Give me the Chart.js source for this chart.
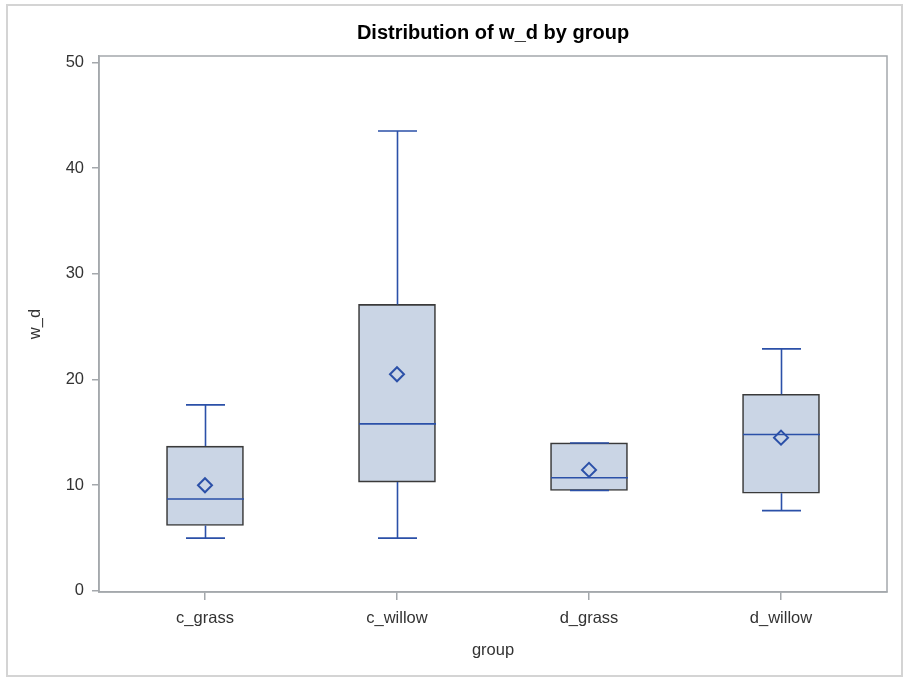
<!DOCTYPE html>
<html>
<head>
<meta charset="utf-8">
<script src="https://cdn.jsdelivr.net/npm/chart.js@4.4.1/dist/chart.umd.min.js"></script>
<style>
  html, body { margin: 0; padding: 0; background: #fff; }
  #wrap { width: 904px; height: 677px; }
</style>
</head>
<body>
<div id="wrap"><canvas id="box-chart" width="904" height="677"></canvas></div>
<script>
// Box plot data
const groups = ['c_grass', 'c_willow', 'd_grass', 'd_willow'];
const whiskerLow = [5.0, 5.0, 9.5, 7.6];
const q1 = [6.2, 10.3, 9.5, 9.25];
const medians = [8.7, 15.8, 10.7, 14.8];
const q3 = [13.7, 27.1, 14.0, 18.6];
const whiskerHigh = [17.6, 43.5, 14.0, 22.9];
const means = [10.0, 20.5, 11.45, 14.5];
const yTicks = [0, 10, 20, 30, 40, 50];

const blue = '#2b50a8';
const axisGrey = '#a4a8ac';
const textColor = '#333333';

const boxData = groups.map(function (g, i) { return { x: i + 1, y: [q1[i], q3[i]] }; });
const meanData = groups.map(function (g, i) { return { x: i + 1, y: means[i] }; });

// whiskers, caps and medians drawn right after the boxes
const whiskerPlugin = {
  id: 'whiskers',
  afterDatasetDraw: function (chart, args) {
    if (args.index !== 1) return;
    const ctx = chart.ctx;
    const xs = chart.scales.x, ys = chart.scales.y;
    const boxW = 77;
    const capW = 39;
    ctx.save();
    ctx.strokeStyle = blue;
    ctx.lineWidth = 1.6;
    for (let i = 0; i < groups.length; i++) {
      const cx = Math.round(xs.getPixelForValue(i + 1)) + 0.5;
      const yLo = ys.getPixelForValue(whiskerLow[i]);
      const yQ1 = ys.getPixelForValue(q1[i]);
      const yQ3 = ys.getPixelForValue(q3[i]);
      const yHi = ys.getPixelForValue(whiskerHigh[i]);
      const yMed = ys.getPixelForValue(medians[i]);
      ctx.beginPath();
      ctx.moveTo(cx, yQ3); ctx.lineTo(cx, yHi);
      ctx.moveTo(cx, yQ1); ctx.lineTo(cx, yLo);
      ctx.moveTo(cx - capW / 2, yHi); ctx.lineTo(cx + capW / 2, yHi);
      ctx.moveTo(cx - capW / 2, yLo); ctx.lineTo(cx + capW / 2, yLo);
      ctx.moveTo(cx - boxW / 2, yMed); ctx.lineTo(cx + boxW / 2, yMed);
      ctx.stroke();
    }
    ctx.restore();
  }
};

// plot frame and outer border
const framePlugin = {
  id: 'frame',
  beforeDraw: function (chart) {
    const ctx = chart.ctx;
    ctx.save();
    ctx.strokeStyle = '#d4d4d4';
    ctx.lineWidth = 2;
    ctx.strokeRect(7, 5, 895, 671);
    ctx.restore();
  },
  beforeDatasetsDraw: function (chart) {
    const a = chart.chartArea;
    const ctx = chart.ctx;
    ctx.save();
    ctx.strokeStyle = axisGrey;
    ctx.lineWidth = 1.5;
    ctx.strokeRect(a.left, a.top, a.right - a.left, a.bottom - a.top);
    ctx.restore();
  }
};

var ctx = document.getElementById('box-chart').getContext('2d');
var boxChart = new Chart(ctx, {
  type: 'bar',
  data: {
    datasets: [
      {
        type: 'scatter',
        label: 'Mean',
        data: meanData,
        pointStyle: 'rectRot',
        pointRadius: 7,
        pointBorderWidth: 2,
        pointBorderColor: blue,
        pointBackgroundColor: 'rgba(0,0,0,0)',
        order: 1
      },
      {
        type: 'bar',
        label: 'Box',
        data: boxData,
        backgroundColor: '#cad5e5',
        borderColor: '#3a3a3a',
        borderWidth: 1.6,
        borderSkipped: false,
        barThickness: 77,
        order: 2
      }
    ]
  },
  options: {
    responsive: false,
    animation: false,
    layout: { padding: { left: 0, top: 0, right: 17, bottom: 0 } },
    plugins: {
      legend: { display: false },
      tooltip: { enabled: false },
      title: {
        display: true,
        fullSize: false,
        text: 'Distribution of w_d by group',
        color: '#000',
        font: { family: 'Liberation Sans', size: 20, weight: 'bold' },
        padding: { top: 21, bottom: 11 }
      }
    },
    scales: {
      x: {
        type: 'linear',
        offset: false,
        min: 0.448,
        max: 4.552,
        afterBuildTicks: function (scale) {
          scale.ticks = groups.map(function (g, i) { return { value: i + 1 }; });
        },
        afterFit: function (scale) { scale.height = 85; },
        grid: { offset: false, drawOnChartArea: false, drawTicks: true, tickLength: 8, color: axisGrey, lineWidth: 1.5 },
        border: { display: true, color: axisGrey, width: 1.5 },
        ticks: {
          color: textColor,
          font: { family: 'Liberation Sans', size: 16.5 },
          padding: 9,
          maxRotation: 0,
          callback: function (v) { return groups[v - 1]; }
        },
        title: {
          display: true,
          text: 'group',
          color: textColor,
          font: { family: 'Liberation Sans', size: 16.5 },
          padding: { top: 0, bottom: 17 }
        }
      },
      y: {
        type: 'linear',
        min: -0.1,
        max: 50.6,
        afterBuildTicks: function (scale) {
          scale.ticks = yTicks.map(function (v) { return { value: v }; });
        },
        afterFit: function (scale) { scale.width = 99; },
        grid: { drawOnChartArea: false, drawTicks: true, tickLength: 7, color: axisGrey, lineWidth: 1.5 },
        border: { display: true, color: axisGrey, width: 1.5 },
        ticks: {
          color: textColor,
          font: { family: 'Liberation Sans', size: 16.5 },
          padding: 8
        },
        title: {
          display: true,
          text: 'w_d',
          color: textColor,
          font: { family: 'Liberation Sans', size: 16.5 },
          padding: { top: 26, bottom: 0 }
        }
      }
    }
  },
  plugins: [whiskerPlugin, framePlugin]
});
</script>
</body>
</html>
